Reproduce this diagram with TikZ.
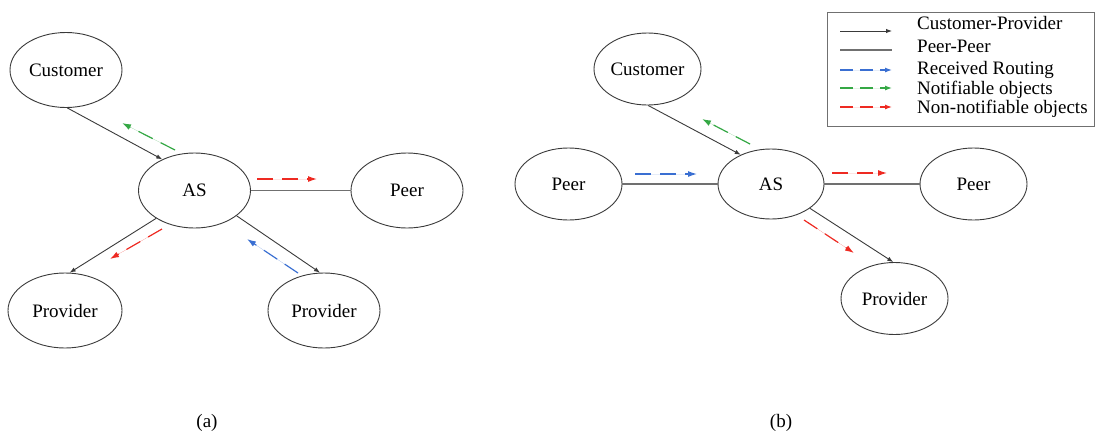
\documentclass[tikz,border=0pt]{standalone}
\usepackage{fontspec}
\setmainfont{Liberation Serif}
\usetikzlibrary{arrows.meta,shapes.geometric}
\definecolor{cblue}{HTML}{3A6FD2}
\definecolor{cgreen}{HTML}{35A845}
\definecolor{cred}{HTML}{EE2A22}
\definecolor{cline}{HTML}{3A3A3A}
\definecolor{cpeer}{HTML}{707070}
\begin{document}
\begin{tikzpicture}[x=1pt,y=-1pt,
  every node/.style={font=\fontsize{19}{22}\selectfont},
  asnode/.style={ellipse,draw=cline,line width=0.9pt,inner sep=0pt,minimum width=112pt,minimum height=75pt},
  asnodeb/.style={asnode,minimum width=107pt,minimum height=72pt},
  cp/.style={draw=cline,line width=0.9pt,-{Latex[length=6pt,width=4.5pt]}},
  pp/.style={draw=cpeer,line width=1.5pt},
  flow/.style={line width=1.2pt,dash pattern=on 16pt off 9pt,-{Latex[length=9pt,width=6pt]}},
  bflow/.style={flow,draw=cblue,fill=cblue},
  gflow/.style={flow,draw=cgreen,fill=cgreen},
  rflow/.style={flow,draw=cred,fill=cred},
  legtext/.style={anchor=base west,inner sep=0pt},
  legbox/.style={draw=cpeer,line width=1pt}]
\useasboundingbox (0,0) rectangle (1099,434);

% ---------- (a) ----------
\node[asnode] (custA) at (66,70) {Customer};
\node[asnode] (asA) at (194.5,190.5) {AS};
\node[asnode] (peerA) at (407,190.5) {Peer};
\node[asnode,minimum width=114pt] (provLA) at (65,310.5) {Provider};
\node[asnode] (provRA) at (324,310.5) {Provider};

\draw[cp] (custA.-88) -- (asA.136);
\draw[pp] (asA.east) -- (peerA.west);
\draw[cp] (asA.216) -- (provLA.83);
\draw[cp] (asA.-31.6) -- (provRA.96);

\coordinate (ga1) at (175,150); \coordinate (ga2) at (122,123);
\coordinate (ra1) at (257,179); \coordinate (ra2) at (317,179);
\coordinate (ra3) at (162,229); \coordinate (ra4) at (110,259);
\coordinate (ba1) at (298,273); \coordinate (ba2) at (247,239);
\draw[gflow] (ga1) -- (ga2);
\draw[rflow] (ra1) -- (ra2);
\draw[rflow] (ra3) -- (ra4);
\draw[bflow] (ba1) -- (ba2);

\node (capA) at (207,423) {(a)};

% ---------- (b) ----------
\node[asnodeb] (custB) at (647.5,69) {Customer};
\node[asnodeb] (peerLB) at (568.5,184) {Peer};
\node[asnodeb,minimum width=106pt,minimum height=70pt] (asB) at (771,184) {AS};
\node[asnodeb] (peerRB) at (973.5,184) {Peer};
\node[asnodeb] (provB) at (894.5,298.5) {Provider};

\draw[cp] (custB.-89) -- (asB.136);
\draw[pp] (peerLB.east) -- (asB.west);
\draw[pp] (asB.east) -- (peerRB.west);
\draw[cp] (asB.-32.7) -- (provB.92);

\coordinate (gb1) at (750,144); \coordinate (gb2) at (702,119);
\coordinate (bb1) at (635,174); \coordinate (bb2) at (697,174);
\coordinate (rb1) at (832,173); \coordinate (rb2) at (887,173);
\coordinate (rb3) at (804,220); \coordinate (rb4) at (854,253);
\draw[gflow] (gb1) -- (gb2);
\draw[bflow] (bb1) -- (bb2);
\draw[rflow] (rb1) -- (rb2);
\draw[rflow] (rb3) -- (rb4);

\node (capB) at (781,423) {(b)};

% ---------- legend ----------
\node[legbox,minimum width=267pt,minimum height=114pt,inner sep=0pt] (leg) at (960.5,69) {};
\coordinate (l1a) at (840,31);  \coordinate (l1b) at (892,31);
\coordinate (l2a) at (840,50);  \coordinate (l2b) at (892,50);
\coordinate (l3a) at (840,70);  \coordinate (l3b) at (892,70);
\coordinate (l4a) at (840,88);  \coordinate (l4b) at (892,88);
\coordinate (l5a) at (840,107); \coordinate (l5b) at (892,107);
\draw[cp] (l1a) -- (l1b);
\draw[pp] (l2a) -- (l2b);
\draw[bflow,dash pattern=on 13pt off 7pt,-{Latex[length=7pt,width=5pt]}] (l3a) -- (l3b);
\draw[gflow,dash pattern=on 13pt off 7pt,-{Latex[length=7pt,width=5pt]}] (l4a) -- (l4b);
\draw[rflow,dash pattern=on 13pt off 7pt,-{Latex[length=7pt,width=5pt]}] (l5a) -- (l5b);
\node[legtext] (t1) at (917,29) {Customer-Provider};
\node[legtext] (t2) at (917,52) {Peer-Peer};
\node[legtext] (t3) at (917,74) {Received Routing};
\node[legtext] (t4) at (917,94) {Notifiable objects};
\node[legtext] (t5) at (917,113) {Non-notifiable objects};
\end{tikzpicture}
\end{document}
